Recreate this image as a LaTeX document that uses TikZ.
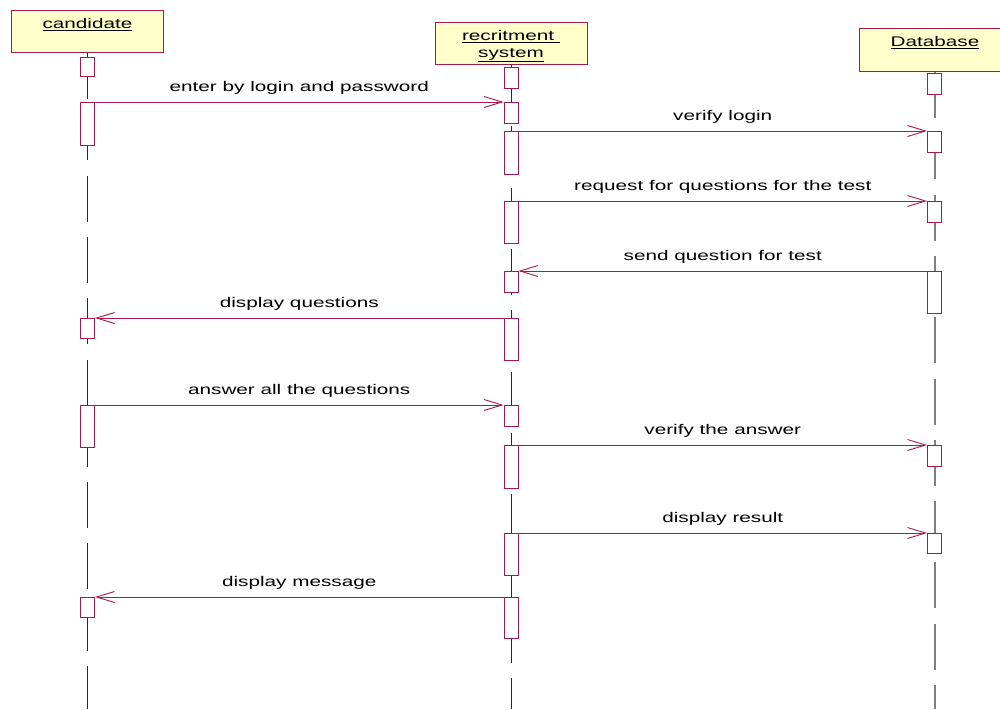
\documentclass[tikz,border=0pt]{standalone}
\usepackage{fontspec}
\newfontfamily\diag[FakeStretch=1.48]{Liberation Sans}
\usetikzlibrary{arrows.meta}
\definecolor{umlred}{RGB}{165,25,75}
\definecolor{headfill}{RGB}{255,255,204}
\definecolor{lifedark}{RGB}{40,40,40}
\definecolor{lifegray}{RGB}{128,128,128}
\begin{document}
\begin{tikzpicture}[x=1pt,y=-1pt,
  head/.style={draw=umlred, fill=headfill, line width=1pt, minimum width=152pt, minimum height=42pt, inner sep=0pt, anchor=north},
  htext/.style={font=\diag\fontsize{14}{17}\selectfont, align=center, inner sep=0pt, anchor=north},
  life/.style={draw=lifedark, line width=1pt, dash pattern=on 46pt off 15.3pt},
  act/.style={draw=umlred, fill=white, line width=1pt, minimum width=14pt, inner sep=0pt, anchor=north},
  msg/.style={draw=umlred, line width=0.9pt, -{Straight Barb[length=18pt,width=11pt]}},
  lbl/.style={font=\diag\fontsize{14}{17}\selectfont, text=black, anchor=base, yshift=11pt, inner sep=0pt}]
\useasboundingbox (0,0) rectangle (1000,709);
\clip (0,0) rectangle (1000,709);
\fill[white] (0,0) rectangle (1000,709);

% headers
\node[head] (cand) at (87.5,10) {};
\node[htext] (candt) at ([yshift=-8pt]cand.north) {\underline{candidate}};
\node[head] (rec) at (511,22) {};
\node[htext] (rect) at ([yshift=-8pt]rec.north) {\underline{recritment\ }\\\underline{system}};
\node[head, minimum height=43pt] (db) at (935,28) {};
\node[htext] (dbt) at ([yshift=-8pt]db.north) {\underline{Database}};

% lifeline ends
\coordinate (candend) at (87.5,709);
\coordinate (recend) at (511,709);
\coordinate (dbend) at (935,709);
\draw[life] (cand.south) -- (candend);
\draw[life] (rec.south) -- (recend);
\draw[life, draw=lifegray, line width=1.4pt] (db.south) -- (dbend);

% activation boxes: candidate
\node[act, minimum height=19pt] (c1) at (87.5,57) {};
\node[act, minimum height=43pt] (c2) at (87.5,102) {};
\node[act, minimum height=20pt] (c3) at (87.5,318) {};
\node[act, minimum height=42pt] (c4) at (87.5,405) {};
\node[act, minimum height=20pt] (c5) at (87.5,597) {};
% recruitment system
\node[act, minimum height=21pt] (r1) at (511,67) {};
\node[act, minimum height=21pt] (r2) at (511,102) {};
\node[act, minimum height=43pt] (r3) at (511,131) {};
\node[act, minimum height=42pt] (r4) at (511,201) {};
\node[act, minimum height=21pt] (r5) at (511,271) {};
\node[act, minimum height=42pt] (r6) at (511,318) {};
\node[act, minimum height=21pt] (r7) at (511,405) {};
\node[act, minimum height=43pt] (r8) at (511,445) {};
\node[act, minimum height=42pt] (r9) at (511,533) {};
\node[act, minimum height=41pt] (r10) at (511,597) {};
% database
\node[act, minimum height=21pt] (d1) at (934.5,73) {};
\node[act, minimum height=21pt] (d2) at (934.5,131) {};
\node[act, minimum height=21pt] (d3) at (934.5,201) {};
\node[act, minimum height=42pt] (d4) at (934.5,271) {};
\node[act, minimum height=21pt] (d5) at (934.5,445) {};
\node[act, minimum height=20pt] (d6) at (934.5,533) {};

% messages
\draw[msg] (c2.north east) -- node[lbl] {enter by login and password} (r2.north west);
\draw[msg] (r3.north east) -- node[lbl] {verify login} (d2.north west);
\draw[msg] (r4.north east) -- node[lbl] {request for questions for the test} (d3.north west);
\draw[msg] (d4.north west) -- node[lbl] {send question for test} (r5.north east);
\draw[msg] (r6.north west) -- node[lbl] {display questions} (c3.north east);
\draw[msg] (c4.north east) -- node[lbl] {answer all the questions} (r7.north west);
\draw[msg] (r8.north east) -- node[lbl] {verify the answer} (d5.north west);
\draw[msg] (r9.north east) -- node[lbl] {display result} (d6.north west);
\draw[msg] (r10.north west) -- node[lbl] {display message} (c5.north east);
\end{tikzpicture}
\end{document}
